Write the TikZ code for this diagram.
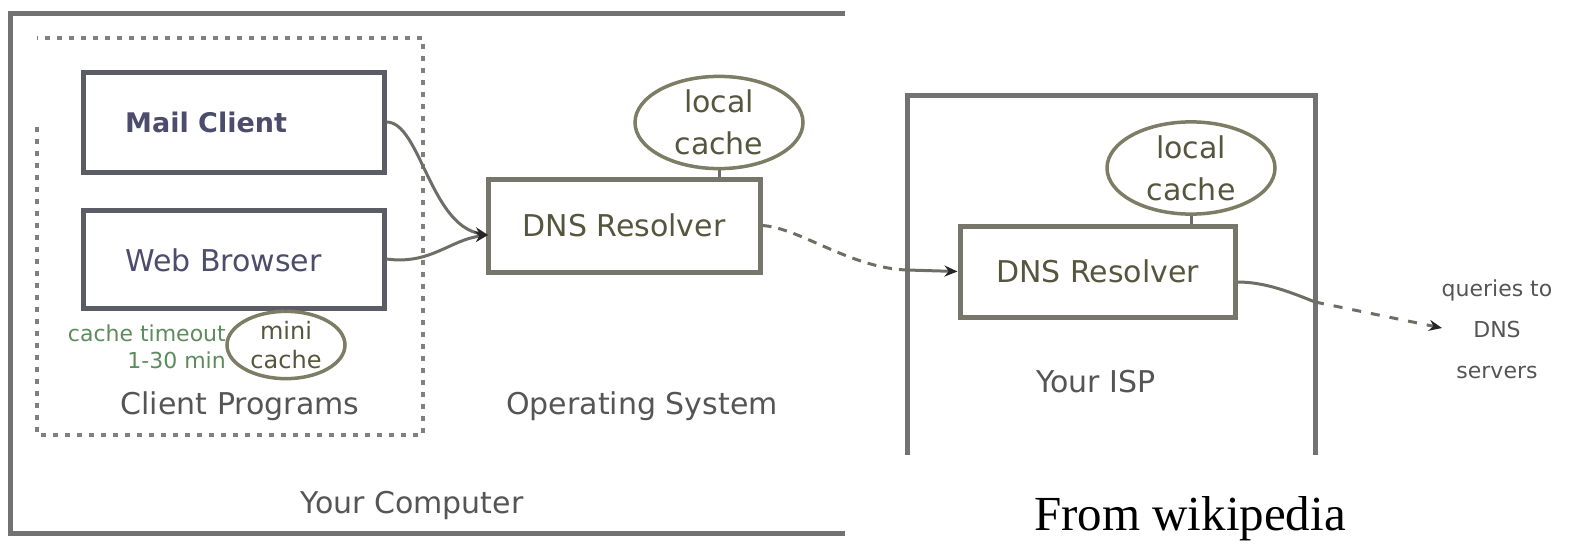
\documentclass[tikz,border=0pt]{standalone}
\usepackage{fontspec}
\setmainfont{Liberation Serif}
\newfontfamily\dv{DejaVu Sans}
\usetikzlibrary{arrows.meta,shapes.geometric}
\definecolor{framec}{HTML}{727272}
\definecolor{clientc}{HTML}{5C5C66}
\definecolor{dnsc}{HTML}{76766A}
\definecolor{ellc}{HTML}{7D7D66}
\definecolor{connc}{HTML}{6E6E66}
\definecolor{ctext}{HTML}{4C4C6C}
\definecolor{dtext}{HTML}{56563E}
\definecolor{ltext}{HTML}{555555}
\definecolor{gtext}{HTML}{5C8C5C}
\tikzset{
  frameline/.style={draw=framec, line width=5pt},
  dotline/.style={draw=framec!90, line width=4pt, dash pattern=on 5pt off 7pt},
  clientbox/.style={draw=clientc, line width=5pt, fill=white, inner sep=0pt},
  dnsbox/.style={draw=dnsc, line width=5pt, fill=white, inner sep=0pt, text=dtext, font=\dv\fontsize{30}{34}\selectfont},
  cachebox/.style={draw=ellc, line width=3.5pt, ellipse, inner sep=0pt, text=dtext, align=center},
  conn/.style={draw=connc, line width=3pt},
  tip/.style={-{Stealth[length=13pt,width=11pt,color=black!85]}},
  lbl/.style={text=ltext, font=\dv\fontsize{30}{34}\selectfont, inner sep=0pt},
}
\begin{document}
\begin{tikzpicture}[x=1pt,y=-1pt]
\useasboundingbox (0,0) rectangle (1572,557);
% frames
\draw[frameline] (845,13) -- (10,13) -- (10,533) -- (845,533);
\draw[frameline] (907,455) -- (907,95) -- (1315,95) -- (1315,455);
\draw[dotline] (37,127) -- (37,435) -- (423,435) -- (423,38) -- (37,38);
% client boxes
\node[clientbox, minimum width=301pt, minimum height=100pt] (mail) at (233.5,122) {};
\node[anchor=west, inner sep=0pt, text=ctext, font=\dv\bfseries\fontsize{27}{30}\selectfont] (mailt) at (125,122) {Mail Client};
\node[clientbox, minimum width=301pt, minimum height=98pt] (web) at (233.5,259) {};
\node[anchor=west, inner sep=0pt, text=ctext, font=\dv\fontsize{30}{34}\selectfont] (webt) at (125,260) {Web Browser};
% mini cache
\node[cachebox, minimum width=118pt, minimum height=60pt, font=\dv\fontsize{24}{29}\selectfont] (mini) at (286,345) {mini\\cache};
\draw[conn, line width=2pt] (web.south -| mini.north) -- (mini.north);
\node[anchor=east, align=right, inner sep=0pt, text=gtext, font=\dv\fontsize{22}{27}\selectfont] (tmo) at (226,347) {cache timeout\\1-30 min};
% OS resolver
\node[dnsbox, minimum width=272pt, minimum height=93pt] (osdns) at (624,225.5) {DNS Resolver};
\node[cachebox, minimum width=168pt, minimum height=79pt, font=\dv\fontsize{30}{42}\selectfont] (oscache) at (719,122.5) {local\\cache};
\draw[conn] (oscache.south) -- (oscache.south |- osdns.north);
% ISP resolver
\node[dnsbox, minimum width=275pt, minimum height=91pt] (ispdns) at (1097.5,271.5) {DNS Resolver};
\node[cachebox, minimum width=168pt, minimum height=80pt, font=\dv\fontsize{30}{42}\selectfont] (ispcache) at (1191,168) {local\\cache};
\draw[conn] (ispcache.south) -- (ispcache.south |- ispdns.north);
% labels
\node[lbl] (cp) at (240,406) {Client Programs};
\node[lbl] (os) at (642,406) {Operating System};
\node[lbl] (yc) at (412,505) {Your Computer};
\node[lbl] (isp) at (1096,382) {Your ISP};
\node[lbl, align=center, font=\dv\fontsize{22}{41}\selectfont] (ext) at (1497,329) {queries to\\DNS\\servers};
\node[inner sep=0pt, font=\fontsize{49}{52}\selectfont] (wiki) at (1190,519) {From wikipedia};
% connectors
\coordinate (ospt) at (488,235);
\draw[conn, tip] (mail.east) .. controls (420,122) and (430,225) .. (ospt);
\draw[conn, tip] (web.east) .. controls (430,265) and (450,240) .. (ospt);
\coordinate (ispin) at (907,270);
\draw[conn, dashed, dash pattern=on 9pt off 7pt] (osdns.east) .. controls (800,228) and (850,268) .. (ispin);
\draw[conn, tip] (ispin) -- (ispdns.west);
\coordinate (ispout) at (1315,302);
\coordinate (extin) at (1442,328);
\draw[conn] (ispdns.east |- 0,282) .. controls (1265,282) and (1290,292) .. (ispout);
\draw[conn, tip, dash pattern=on 9pt off 10pt] (ispout) -- (extin);
\end{tikzpicture}
\end{document}
